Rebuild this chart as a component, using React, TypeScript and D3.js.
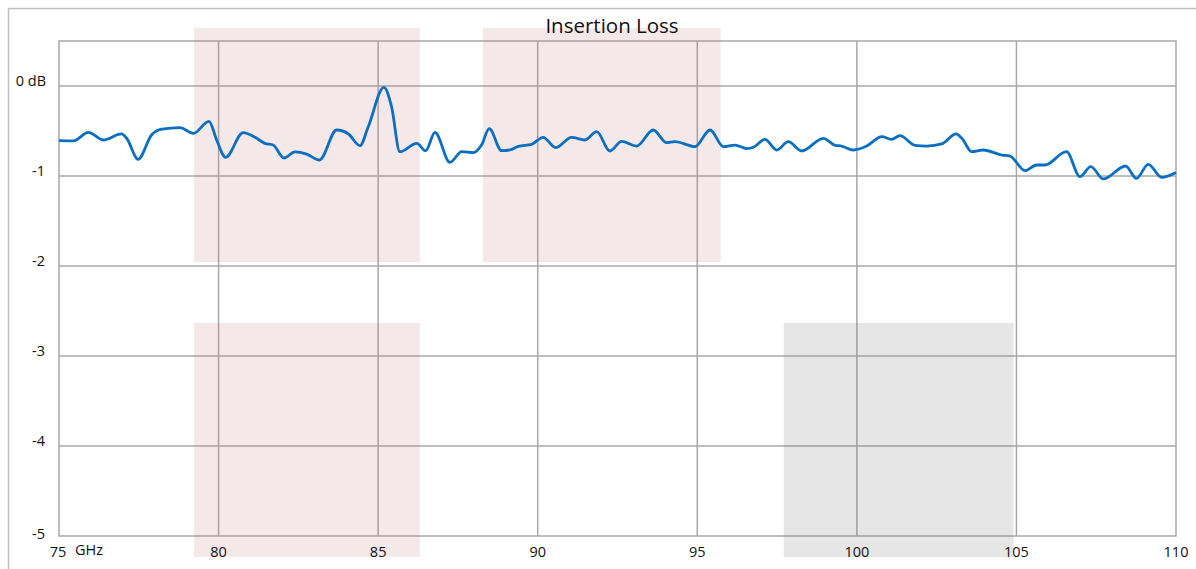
import React from 'react';
import * as d3 from 'd3';

const freqGHz = [
  75.0, 75.45, 75.92, 76.39, 76.96, 77.12, 77.48, 77.9, 78.22, 78.79, 79.21, 79.7, 79.94,
  80.22, 80.77, 81.14, 81.45, 81.71, 82.05, 82.39, 82.76, 83.16, 83.7, 84.07, 84.43, 84.69,
  85.18, 85.42, 85.68, 86.21, 86.49, 86.78, 87.25, 87.62, 87.98, 88.24, 88.48, 88.87, 89.13,
  89.39, 89.81, 90.17, 90.56, 91.06, 91.48, 91.85, 92.26, 92.63, 93.1, 93.62, 94.04, 94.3,
  94.93, 95.4, 95.82, 96.18, 96.55, 96.76, 97.12, 97.49, 97.85, 98.27, 98.95, 99.32, 99.52,
  99.89, 100.31, 100.78, 101.09, 101.35, 101.82, 102.19, 102.66, 103.11, 103.29, 103.6,
  103.96, 104.54, 104.8, 105.27, 105.63, 105.89, 106.57, 106.99, 107.33, 107.72, 108.42,
  108.76, 109.13, 109.55, 110.0,
];
const lossDb = [
  -0.608, -0.61, -0.515, -0.6, -0.533, -0.581, -0.815, -0.544, -0.48, -0.463, -0.526, -0.393, -0.6,
  -0.793, -0.518, -0.57, -0.637, -0.656, -0.8, -0.733, -0.756, -0.822, -0.489, -0.533, -0.663, -0.452,
  -0.015, -0.23, -0.73, -0.637, -0.719, -0.515, -0.848, -0.73, -0.741, -0.656, -0.474, -0.719, -0.711,
  -0.67, -0.648, -0.57, -0.685, -0.57, -0.6, -0.507, -0.722, -0.615, -0.667, -0.489, -0.63, -0.619,
  -0.674, -0.489, -0.674, -0.656, -0.696, -0.681, -0.593, -0.711, -0.619, -0.722, -0.581, -0.659, -0.667,
  -0.711, -0.667, -0.563, -0.592, -0.552, -0.659, -0.667, -0.644, -0.533, -0.581, -0.73,
  -0.711, -0.767, -0.778, -0.941, -0.878, -0.878, -0.73, -1.007, -0.896, -1.033, -0.889,
  -1.026, -0.87, -1.015, -0.96,
];

const xTicks = [75, 80, 85, 90, 95, 100, 105, 110];
const yTicks = [0, -1, -2, -3, -4, -5];

// shaded bands: [x0, x1, y0, y1] in GHz / dB
const pinkBands = [
  [79.23, 86.31, 0.644, -1.956],
  [88.28, 95.73, 0.644, -1.956],
  [79.23, 86.31, -2.633, -5.233],
];
const grayBands = [[97.71, 104.91, -2.633, -5.233]];

const W = 1196;
const H = 569;
const left = 59;
const right = 1176;
const top = 41;
const bottom = 536;

export default function App() {
  const x = d3.scaleLinear().domain([75, 110]).range([left, right]);
  const y = d3.scaleLinear().domain([-5, 0.5]).range([bottom, top]);

  const pts = freqGHz.map((f, i) => [f, lossDb[i]] as [number, number]);
  const line = d3
    .line<[number, number]>()
    .x((d) => x(d[0]))
    .y((d) => y(d[1]))
    .curve(d3.curveMonotoneX);

  const gridColor = '#a8a8a8';
  const font = "'Open Sans', sans-serif";
  const txt = '#111';

  return (
    <svg
      width={W}
      height={H}
      style={{ position: 'absolute', left: 0, top: 0, display: 'block', background: '#fff' }}
    >
      <rect x={8.5} y={8.5} width={1400} height={800} fill="none" stroke="#bfbfbf" strokeWidth={1.5} />

      <rect x={left} y={top} width={right - left} height={bottom - top} fill="none" stroke={gridColor} strokeWidth={1.5} />
      {xTicks.slice(1, -1).map((t) => (
        <line key={'vx' + t} x1={x(t)} x2={x(t)} y1={top} y2={bottom} stroke={gridColor} strokeWidth={1.5} />
      ))}
      {yTicks.slice(0, -1).map((t) => (
        <line key={'hy' + t} x1={left} x2={right} y1={y(t)} y2={y(t)} stroke={gridColor} strokeWidth={1.5} />
      ))}

      {pinkBands.map((b, i) => (
        <rect
          key={'p' + i}
          x={x(b[0])}
          y={y(b[2])}
          width={x(b[1]) - x(b[0])}
          height={y(b[3]) - y(b[2])}
          fill="rgba(196,120,120,0.17)"
        />
      ))}
      {grayBands.map((b, i) => (
        <rect
          key={'g' + i}
          x={x(b[0])}
          y={y(b[2])}
          width={x(b[1]) - x(b[0])}
          height={y(b[3]) - y(b[2])}
          fill="rgba(120,120,120,0.19)"
        />
      ))}

      <path d={line(pts) || ''} fill="none" stroke="#0a6fc2" strokeWidth={2.8} strokeLinejoin="round" />

      <text x={612} y={33} textAnchor="middle" fontFamily={font} fontSize={20.5} fill={txt}>
        Insertion Loss
      </text>

      {yTicks.map((t) => (
        <text
          key={'yl' + t}
          x={t === 0 ? 46 : 45}
          y={y(t) - (t === -5 ? 1 : 4)}
          textAnchor="end"
          dominantBaseline="middle"
          fontFamily={font}
          fontSize={14.5}
          fill={txt}
        >
          {t === 0 ? '0 dB' : String(t)}
        </text>
      ))}

      {xTicks.map((t) => (
        <text
          key={'xl' + t}
          x={t === 75 ? x(t) - 1 : x(t)}
          y={553}
          textAnchor="middle"
          dominantBaseline="middle"
          fontFamily={font}
          fontSize={14.5}
          fill={txt}
        >
          {t}
        </text>
      ))}
      <text x={75} y={551} dominantBaseline="middle" fontFamily={font} fontSize={14.5} fill={txt}>
        GHz
      </text>
    </svg>
  );
}
